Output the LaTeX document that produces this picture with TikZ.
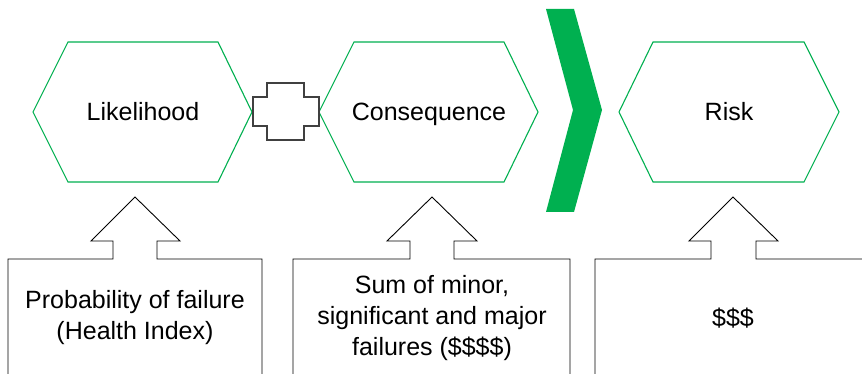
\documentclass[tikz,border=0pt]{standalone}
\usepackage{fontspec}
\setmainfont{Liberation Sans}
\definecolor{offgreen}{RGB}{0,176,80}
\definecolor{crossgray}{RGB}{64,64,64}
\begin{document}
\begin{tikzpicture}[x=1pt,y=-1pt,
  hexa/.style={draw=offgreen,line width=1.1pt,line join=miter},
  crossbox/.style={draw=crossgray,line width=1.2pt,fill=white},
  chev/.style={fill=offgreen,draw=none},
  callout/.style={draw=black,line width=0.9pt,fill=white},
  lbl/.style={font=\fontsize{25}{31}\selectfont,align=center,inner sep=0pt,text=black}]
\useasboundingbox (0,0) rectangle (862,374);
\clip (0,0) rectangle (862,374);
\fill[white] (0,0) rectangle (862,374);
% hexagons
\draw[hexa] (33,112) -- (68,42) -- (218,42) -- (252,112) -- (218,182) -- (68,182) -- cycle;
\draw[hexa] (319,112) -- (354,42) -- (504,42) -- (538,112) -- (504,182) -- (354,182) -- cycle;
\draw[hexa] (619,112) -- (653,42) -- (804,42) -- (839,112) -- (804,182) -- (653,182) -- cycle;
% cross
\draw[crossbox] (253,97) -- (267,97) -- (267,83) -- (304,83) -- (304,97) -- (319,97) -- (319,126) -- (304,126) -- (304,140) -- (267,140) -- (267,126) -- (253,126) -- cycle;
% chevron
\fill[chev] (546,9) -- (574,9) -- (602,110) -- (574,212) -- (546,212) -- (573,110) -- cycle;
% callouts
\draw[callout] (8,390) -- (8,259) -- (113,259) -- (113,241) -- (91,241) -- (135,197) -- (180,241) -- (157,241) -- (157,259) -- (262,259) -- (262,390);
\draw[callout] (293,390) -- (293,259) -- (410,259) -- (410,241) -- (387,241) -- (432,197) -- (477,241) -- (454,241) -- (454,259) -- (570,259) -- (570,390);
\draw[callout] (595,390) -- (595,259) -- (711,259) -- (711,241) -- (689,241) -- (733,197) -- (778,241) -- (756,241) -- (756,259) -- (880,259);
% labels
\node[lbl,anchor=base] (likelihood) at (143,121) {Likelihood};
\node[lbl,anchor=base] (consequence) at (429,121) {Consequence};
\node[lbl,anchor=base] (risk) at (729,121) {Risk};
\node[lbl] (pof) at (135,318) {Probability of failure\\(Health Index)};
\node[lbl] (sum) at (432,318) {Sum of minor,\\significant and major\\failures (\$\$\$\$)};
\node[lbl] (dollars) at (733,318) {\$\$\$};
\end{tikzpicture}
\end{document}
